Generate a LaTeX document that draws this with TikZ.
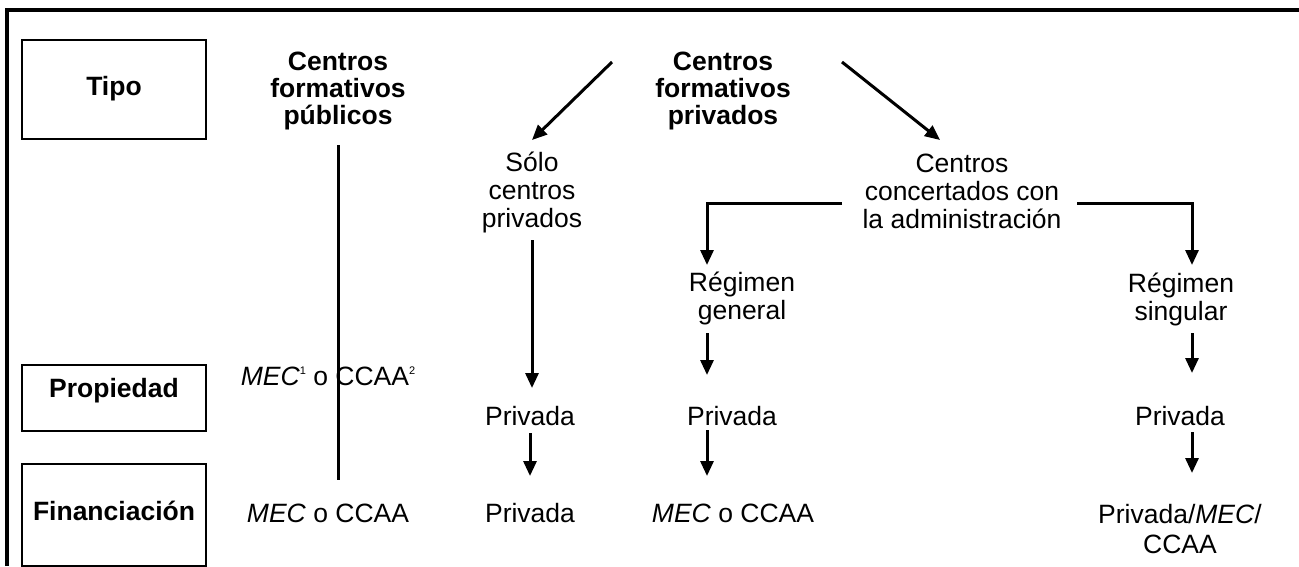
\documentclass[tikz,border=0pt]{standalone}
\usepackage{fontspec}
\setmainfont{Liberation Sans}
\usetikzlibrary{arrows.meta}
\newcommand{\supnum}[1]{\raisebox{11pt}{\fontsize{11}{11}\selectfont #1}}
\begin{document}
\begin{tikzpicture}[x=1pt,y=-1pt,
  txt/.style={font=\fontsize{26.5}{28}\selectfont, align=center, inner sep=0pt},
  btxt/.style={font=\fontsize{26.5}{27}\selectfont\bfseries, align=center, inner sep=0pt},
  labbox/.style={draw, line width=2pt, minimum width=184pt, inner sep=0pt},
  arr/.style={line width=3pt, -{Triangle[length=15pt,width=13pt]}},
  ln/.style={line width=3pt}]
\useasboundingbox (0,0) rectangle (1299,566);
\draw[line width=3.4pt] (7,566) -- (7,10) -- (1299,10);

% left label boxes
\node[labbox, minimum height=99pt] (tipobox) at (114,89.5) {};
\node[labbox, minimum height=66pt] (propbox) at (114,398) {};
\node[labbox, minimum height=102pt] (finbox) at (114,514.5) {};
\node[btxt] (tipo) at (114,89) {Tipo};
\node[btxt] (prop) at (114,391) {Propiedad};
\node[btxt] (fin) at (114,511) {Financiación};

% headers
\node[btxt] (pub) at (338,91) {Centros\\formativos\\públicos};
\node[btxt] (priv) at (723,91) {Centros\\formativos\\privados};

% second level
\node[txt] (solo) at (532,192) {Sólo\\centros\\privados};
\node[txt] (conc) at (962,191) {Centros\\concertados con\\la administración};
\node[txt] (gen) at (742,298) {Régimen\\general};
\node[txt] (sing) at (1181,299) {Régimen\\singular};

% propiedad row
\node[txt] (mec1) at (328,376) {\textit{MEC}\supnum{1} o CCAA\supnum{2}};
\node[txt] (p1) at (530,416) {Privada};
\node[txt] (p2) at (732,416) {Privada};
\node[txt] (p3) at (1180,416) {Privada};

% financiacion row
\node[txt] (f1) at (328,513) {\textit{MEC} o CCAA};
\node[txt] (f2) at (530,513) {Privada};
\node[txt] (f3) at (733,513) {\textit{MEC} o CCAA};
\node[txt, font=\fontsize{26.5}{30}\selectfont] (f4) at (1180,529) {Privada/\textit{MEC}/\\CCAA};

% connector end points
\coordinate (a1s) at (612,62);
\coordinate (a1e) at (532,140);
\coordinate (a2s) at (842,62);
\coordinate (a2e) at (940,140);
\coordinate (e1) at (842,203);
\coordinate (e1t) at (707,265);
\coordinate (e2) at (1077,203);
\coordinate (e2t) at (1192,265);

% public vertical line
\draw[ln] (pub.south |- 0,145) -- (pub.south |- 0,480);

% private branches
\draw[arr] (a1s) -- (a1e);
\draw[arr] (a2s) -- (a2e);
\draw[arr] (e1) -| (e1t);
\draw[arr] (e2) -| (e2t);

% vertical arrows
\draw[arr] (solo.south |- 0,240) -- (solo.south |- 0,388);
\draw[arr] (p1.south |- 0,433) -- (p1.south |- 0,476);
\draw[arr] (e1t |- 0,333) -- (e1t |- 0,375);
\draw[arr] (e1t |- 0,430) -- (e1t |- 0,476);
\draw[arr] (e2t |- 0,333) -- (e2t |- 0,373);
\draw[arr] (e2t |- 0,432) -- (e2t |- 0,473);
\end{tikzpicture}
\end{document}
